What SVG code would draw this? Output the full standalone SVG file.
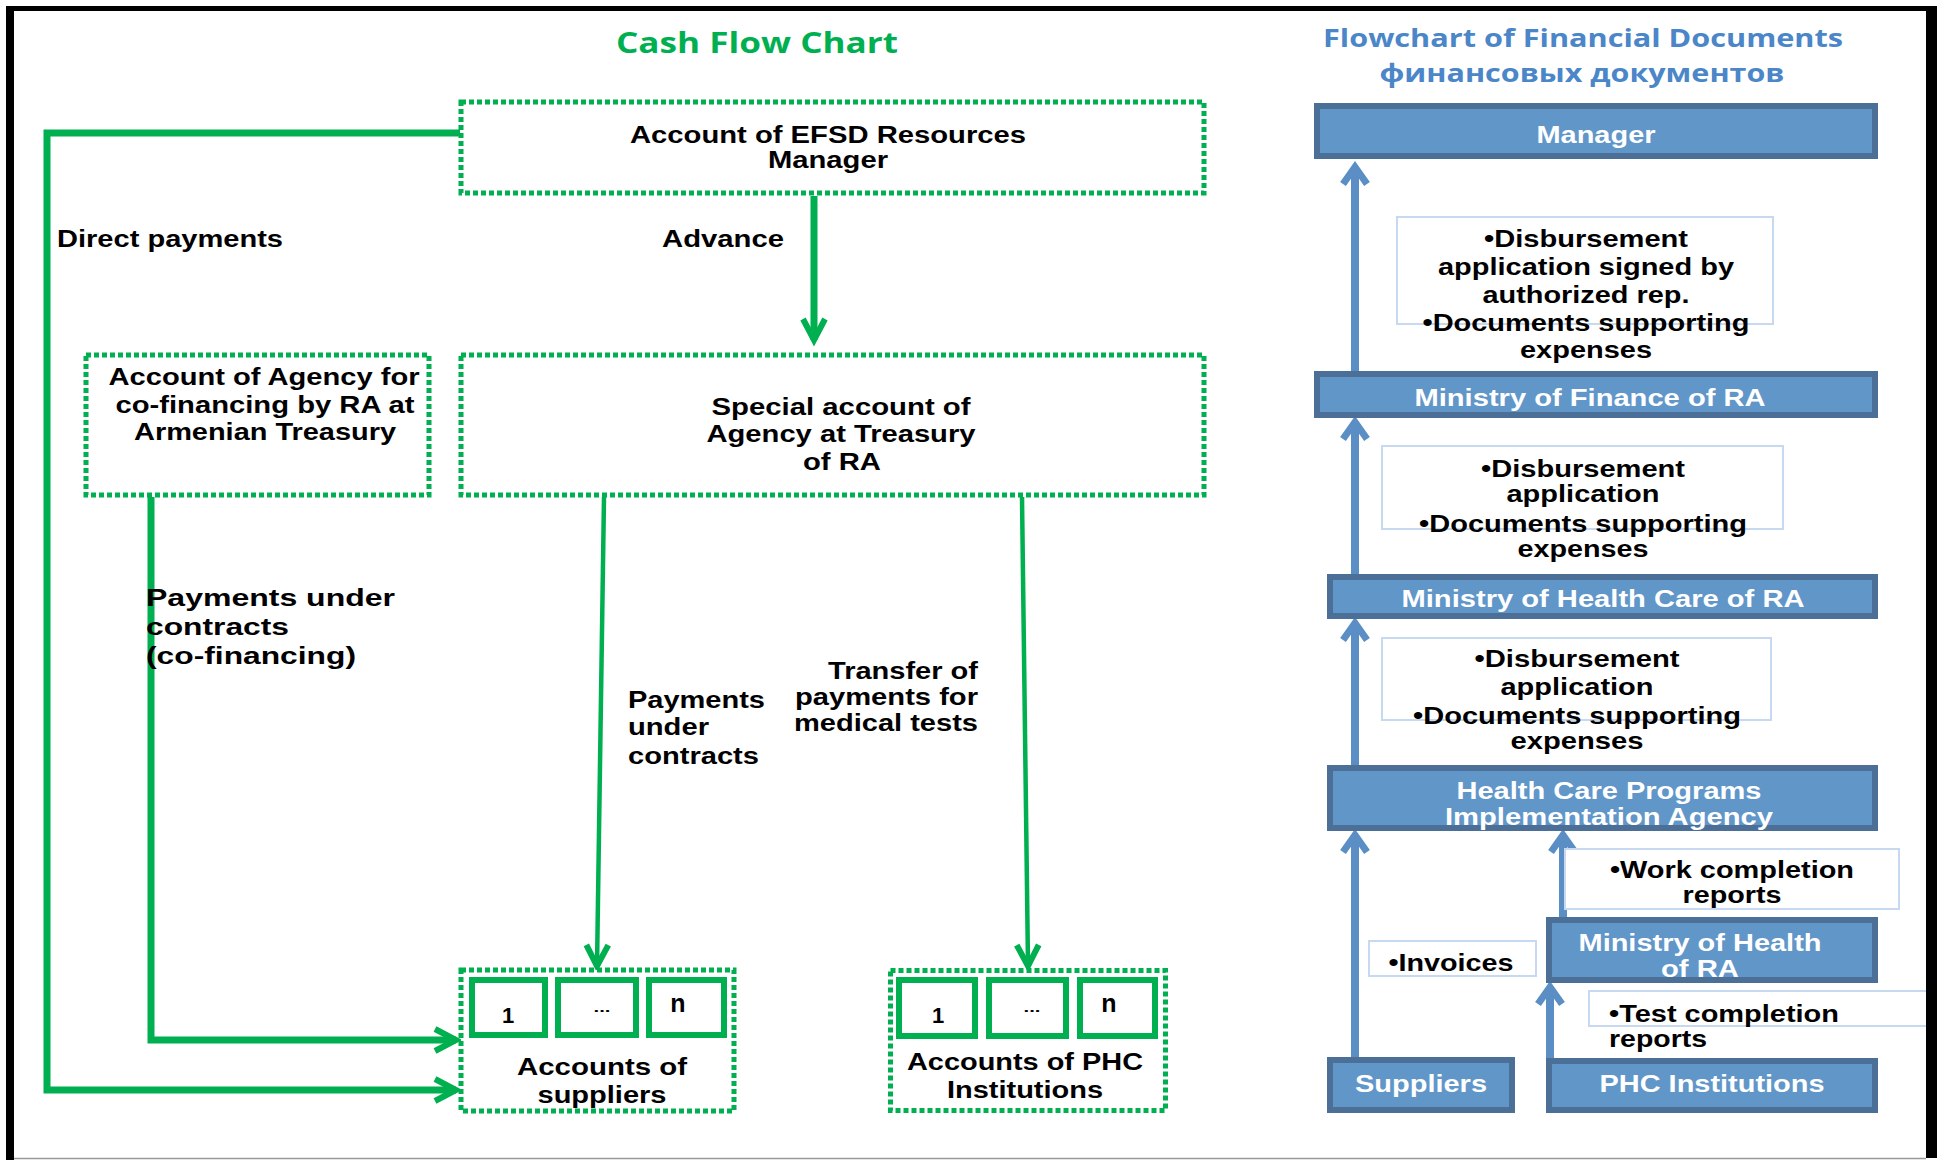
<svg xmlns="http://www.w3.org/2000/svg" width="1937" height="1160" viewBox="0 0 1937 1160">
<style>
.l{font-family:"Liberation Sans",Arial,sans-serif;font-weight:bold;font-size:23px;fill:#000}
.w{fill:#fff}
.c{text-anchor:middle}
.e{text-anchor:end}
.ttl{font-family:"Open Sans","Noto Sans",sans-serif;font-weight:bold;font-size:28px}
.ttl2{font-family:"Open Sans","Noto Sans",sans-serif;font-weight:bold;font-size:24.5px}
.gbox{fill:#fff;stroke:#00B050;stroke-width:5;stroke-dasharray:5 3}
.ibox{fill:#fff;stroke:#00B050;stroke-width:6}
.bbox{fill:#6196C9;stroke:#4B6F97;stroke-width:6}
.tbox{fill:#fff;stroke:#C6D9F1;stroke-width:2}
.gk{fill:none;stroke:#00B050;stroke-width:7}
.gn{fill:none;stroke:#00B050;stroke-width:4.5}
.bl{fill:none;stroke:#5B8EC4;stroke-width:8}
</style>
<defs>
<marker id="ga" markerUnits="userSpaceOnUse" viewBox="-30 -20 40 40" markerWidth="40" markerHeight="40" refX="0" refY="0" orient="auto" overflow="visible">
<path d="M-21,-11 L0,0 L-21,11" fill="none" stroke="#00B050" stroke-width="6" stroke-linejoin="miter"/>
</marker>
<marker id="ba" markerUnits="userSpaceOnUse" viewBox="-30 -20 40 40" markerWidth="40" markerHeight="40" refX="0" refY="0" orient="auto" overflow="visible">
<path d="M-17,-12 L0,0 L-17,12" fill="none" stroke="#5B8EC4" stroke-width="7" stroke-linejoin="miter"/>
</marker>
</defs>
<rect width="1937" height="1160" fill="#fff"/>

<text class="ttl c" x="757" y="53" fill="#00B050" textLength="282" lengthAdjust="spacingAndGlyphs">Cash Flow Chart</text>
<text class="ttl2 c" x="1583" y="47" fill="#4A86C8" textLength="520" lengthAdjust="spacingAndGlyphs">Flowchart of Financial Documents</text>
<text class="ttl2 c" x="1582" y="82" fill="#4A86C8" textLength="405" lengthAdjust="spacingAndGlyphs">финансовых документов</text>

<g id="connectors">
<path class="gk" d="M460,133 H47 V1090 H456" marker-end="url(#ga)"/>
<path class="gk" d="M151,497 V1040 H456" marker-end="url(#ga)"/>
<path class="gk" d="M814,196 V340" marker-end="url(#ga)"/>
<path class="gn" d="M604,497 L597,966" marker-end="url(#ga)"/>
<path class="gn" d="M1022,497 L1028,966" marker-end="url(#ga)"/>
<path class="bl" d="M1355,371 V167" marker-end="url(#ba)"/>
<path class="bl" d="M1355,574 V422" marker-end="url(#ba)"/>
<path class="bl" d="M1355,765 V623" marker-end="url(#ba)"/>
<path class="bl" d="M1355,1057 V835" marker-end="url(#ba)"/>
<path class="bl" d="M1563,917 V835" marker-end="url(#ba)"/>
<path class="bl" d="M1550,1058 V987" marker-end="url(#ba)"/>
</g>

<g id="lbl-direct"><text class="l" x="57" y="247" textLength="226" lengthAdjust="spacingAndGlyphs">Direct payments</text></g>
<g id="lbl-advance"><text class="l" x="662" y="247" textLength="122" lengthAdjust="spacingAndGlyphs">Advance</text></g>
<g id="lbl-cofin">
<text class="l" x="146" y="606" textLength="249" lengthAdjust="spacingAndGlyphs">Payments under</text>
<text class="l" x="146" y="635" textLength="143" lengthAdjust="spacingAndGlyphs">contracts</text>
<text class="l" x="146" y="664" textLength="210" lengthAdjust="spacingAndGlyphs">(co-financing)</text>
</g>
<g id="lbl-contracts">
<text class="l" x="628" y="708" textLength="137" lengthAdjust="spacingAndGlyphs">Payments</text>
<text class="l" x="628" y="735" textLength="81" lengthAdjust="spacingAndGlyphs">under</text>
<text class="l" x="628" y="764" textLength="131" lengthAdjust="spacingAndGlyphs">contracts</text>
</g>
<g id="lbl-transfer">
<text class="l e" x="978" y="679" textLength="150" lengthAdjust="spacingAndGlyphs">Transfer of</text>
<text class="l e" x="978" y="705" textLength="183" lengthAdjust="spacingAndGlyphs">payments for</text>
<text class="l e" x="978" y="731" textLength="184" lengthAdjust="spacingAndGlyphs">medical tests</text>
</g>

<g id="efsd">
<rect class="gbox" x="461" y="102" width="743" height="91"/>
<text class="l c" x="828" y="143" textLength="396" lengthAdjust="spacingAndGlyphs">Account of EFSD Resources</text>
<text class="l c" x="828" y="168" textLength="120" lengthAdjust="spacingAndGlyphs">Manager</text>
</g>
<g id="cofin-account">
<rect class="gbox" x="86" y="355" width="343" height="140"/>
<text class="l c" x="264" y="385" textLength="311" lengthAdjust="spacingAndGlyphs">Account of Agency for</text>
<text class="l c" x="265" y="413" textLength="299" lengthAdjust="spacingAndGlyphs">co-financing by RA at</text>
<text class="l c" x="265" y="440" textLength="262" lengthAdjust="spacingAndGlyphs">Armenian Treasury</text>
</g>
<g id="special-account">
<rect class="gbox" x="461" y="355" width="743" height="140"/>
<text class="l c" x="841" y="415" textLength="259" lengthAdjust="spacingAndGlyphs">Special account of</text>
<text class="l c" x="841" y="442" textLength="269" lengthAdjust="spacingAndGlyphs">Agency at Treasury</text>
<text class="l c" x="842" y="470" textLength="78" lengthAdjust="spacingAndGlyphs">of RA</text>
</g>
<g id="supplier-accounts">
<rect class="gbox" x="461" y="970" width="273" height="141"/>
<rect class="ibox" x="472" y="980" width="73" height="55"/>
<rect class="ibox" x="558" y="980" width="78" height="55"/>
<rect class="ibox" x="649" y="980" width="75" height="55"/>
<text class="l c" x="508" y="1023" style="font-size:22px">1</text>
<text class="l c" x="602" y="1012" style="font-size:13px" textLength="17" lengthAdjust="spacingAndGlyphs">...</text>
<text class="l c" x="678" y="1012" style="font-size:25px">n</text>
<text class="l c" x="602" y="1075" textLength="170" lengthAdjust="spacingAndGlyphs">Accounts of</text>
<text class="l c" x="602" y="1103" textLength="129" lengthAdjust="spacingAndGlyphs">suppliers</text>
</g>
<g id="phc-accounts">
<rect class="gbox" x="890.5" y="970.5" width="275" height="140"/>
<rect class="ibox" x="899" y="980" width="76" height="56"/>
<rect class="ibox" x="989" y="980" width="77" height="56"/>
<rect class="ibox" x="1080" y="980" width="75" height="56"/>
<text class="l c" x="938" y="1023" style="font-size:22px">1</text>
<text class="l c" x="1032" y="1012" style="font-size:13px" textLength="17" lengthAdjust="spacingAndGlyphs">...</text>
<text class="l c" x="1109" y="1012" style="font-size:25px">n</text>
<text class="l c" x="1025" y="1070" textLength="236" lengthAdjust="spacingAndGlyphs">Accounts of PHC</text>
<text class="l c" x="1025" y="1098" textLength="156" lengthAdjust="spacingAndGlyphs">Institutions</text>
</g>

<g id="manager">
<rect class="bbox" x="1317" y="106" width="558" height="50"/>
<text class="l c w" x="1596" y="143" textLength="119" lengthAdjust="spacingAndGlyphs">Manager</text>
</g>
<g id="docs-1">
<rect class="tbox" x="1397" y="217" width="376" height="107"/>
<text class="l c" x="1586" y="247" textLength="204" lengthAdjust="spacingAndGlyphs">•Disbursement</text>
<text class="l c" x="1586" y="275" textLength="296" lengthAdjust="spacingAndGlyphs">application signed by</text>
<text class="l c" x="1586" y="303" textLength="207" lengthAdjust="spacingAndGlyphs">authorized rep.</text>
<text class="l c" x="1586" y="331" textLength="327" lengthAdjust="spacingAndGlyphs">•Documents supporting</text>
<text class="l c" x="1586" y="358" textLength="132" lengthAdjust="spacingAndGlyphs">expenses</text>
</g>
<g id="finance">
<rect class="bbox" x="1317" y="374" width="558" height="41"/>
<text class="l c w" x="1590" y="406" textLength="351" lengthAdjust="spacingAndGlyphs">Ministry of Finance of RA</text>
</g>
<g id="docs-2">
<rect class="tbox" x="1382" y="446" width="401" height="83"/>
<text class="l c" x="1583" y="477" textLength="204" lengthAdjust="spacingAndGlyphs">•Disbursement</text>
<text class="l c" x="1583" y="502" textLength="153" lengthAdjust="spacingAndGlyphs">application</text>
<text class="l c" x="1583" y="532" textLength="328" lengthAdjust="spacingAndGlyphs">•Documents supporting</text>
<text class="l c" x="1583" y="557" textLength="131" lengthAdjust="spacingAndGlyphs">expenses</text>
</g>
<g id="health-care">
<rect class="bbox" x="1330" y="577" width="545" height="39"/>
<text class="l c w" x="1603" y="607" textLength="403" lengthAdjust="spacingAndGlyphs">Ministry of Health Care of RA</text>
</g>
<g id="docs-3">
<rect class="tbox" x="1382" y="638" width="389" height="82"/>
<text class="l c" x="1577" y="667" textLength="205" lengthAdjust="spacingAndGlyphs">•Disbursement</text>
<text class="l c" x="1577" y="695" textLength="153" lengthAdjust="spacingAndGlyphs">application</text>
<text class="l c" x="1577" y="724" textLength="328" lengthAdjust="spacingAndGlyphs">•Documents supporting</text>
<text class="l c" x="1577" y="749" textLength="133" lengthAdjust="spacingAndGlyphs">expenses</text>
</g>
<g id="hcpia">
<rect class="bbox" x="1330" y="768" width="545" height="60"/>
<text class="l c w" x="1609" y="799" textLength="305" lengthAdjust="spacingAndGlyphs">Health Care Programs</text>
<text class="l c w" x="1609" y="825" textLength="328" lengthAdjust="spacingAndGlyphs">Implementation Agency</text>
</g>
<g id="docs-work">
<rect class="tbox" x="1565" y="849" width="334" height="60"/>
<text class="l c" x="1732" y="878" textLength="244" lengthAdjust="spacingAndGlyphs">•Work completion</text>
<text class="l c" x="1732" y="903" textLength="99" lengthAdjust="spacingAndGlyphs">reports</text>
</g>
<g id="moh">
<rect class="bbox" x="1549" y="920" width="326" height="60"/>
<text class="l c w" x="1700" y="951" textLength="243" lengthAdjust="spacingAndGlyphs">Ministry of Health</text>
<text class="l c w" x="1700" y="977" textLength="78" lengthAdjust="spacingAndGlyphs">of RA</text>
</g>
<g id="docs-invoices">
<rect class="tbox" x="1369" y="941" width="167" height="35"/>
<text class="l c" x="1451" y="971" textLength="125" lengthAdjust="spacingAndGlyphs">•Invoices</text>
</g>
<g id="docs-test">
<rect class="tbox" x="1589" y="991" width="340" height="35"/>
<text class="l" x="1609" y="1022" textLength="230" lengthAdjust="spacingAndGlyphs">•Test completion</text>
<text class="l" x="1609" y="1047" textLength="98" lengthAdjust="spacingAndGlyphs">reports</text>
</g>
<g id="suppliers">
<rect class="bbox" x="1330" y="1060" width="182" height="50"/>
<text class="l c w" x="1421" y="1092" textLength="132" lengthAdjust="spacingAndGlyphs">Suppliers</text>
</g>
<g id="phc">
<rect class="bbox" x="1549" y="1061" width="326" height="49"/>
<text class="l c w" x="1712" y="1092" textLength="225" lengthAdjust="spacingAndGlyphs">PHC Institutions</text>
</g>

<g id="frame">
<rect x="6" y="6" width="1931" height="5" fill="#000"/>
<rect x="6" y="6" width="8" height="1154" fill="#000"/>
<rect x="1926" y="6" width="11" height="1152" fill="#000"/>
<line x1="14" y1="1158.5" x2="1926" y2="1158.5" stroke="#999" stroke-width="1.5"/>
</g>
</svg>
